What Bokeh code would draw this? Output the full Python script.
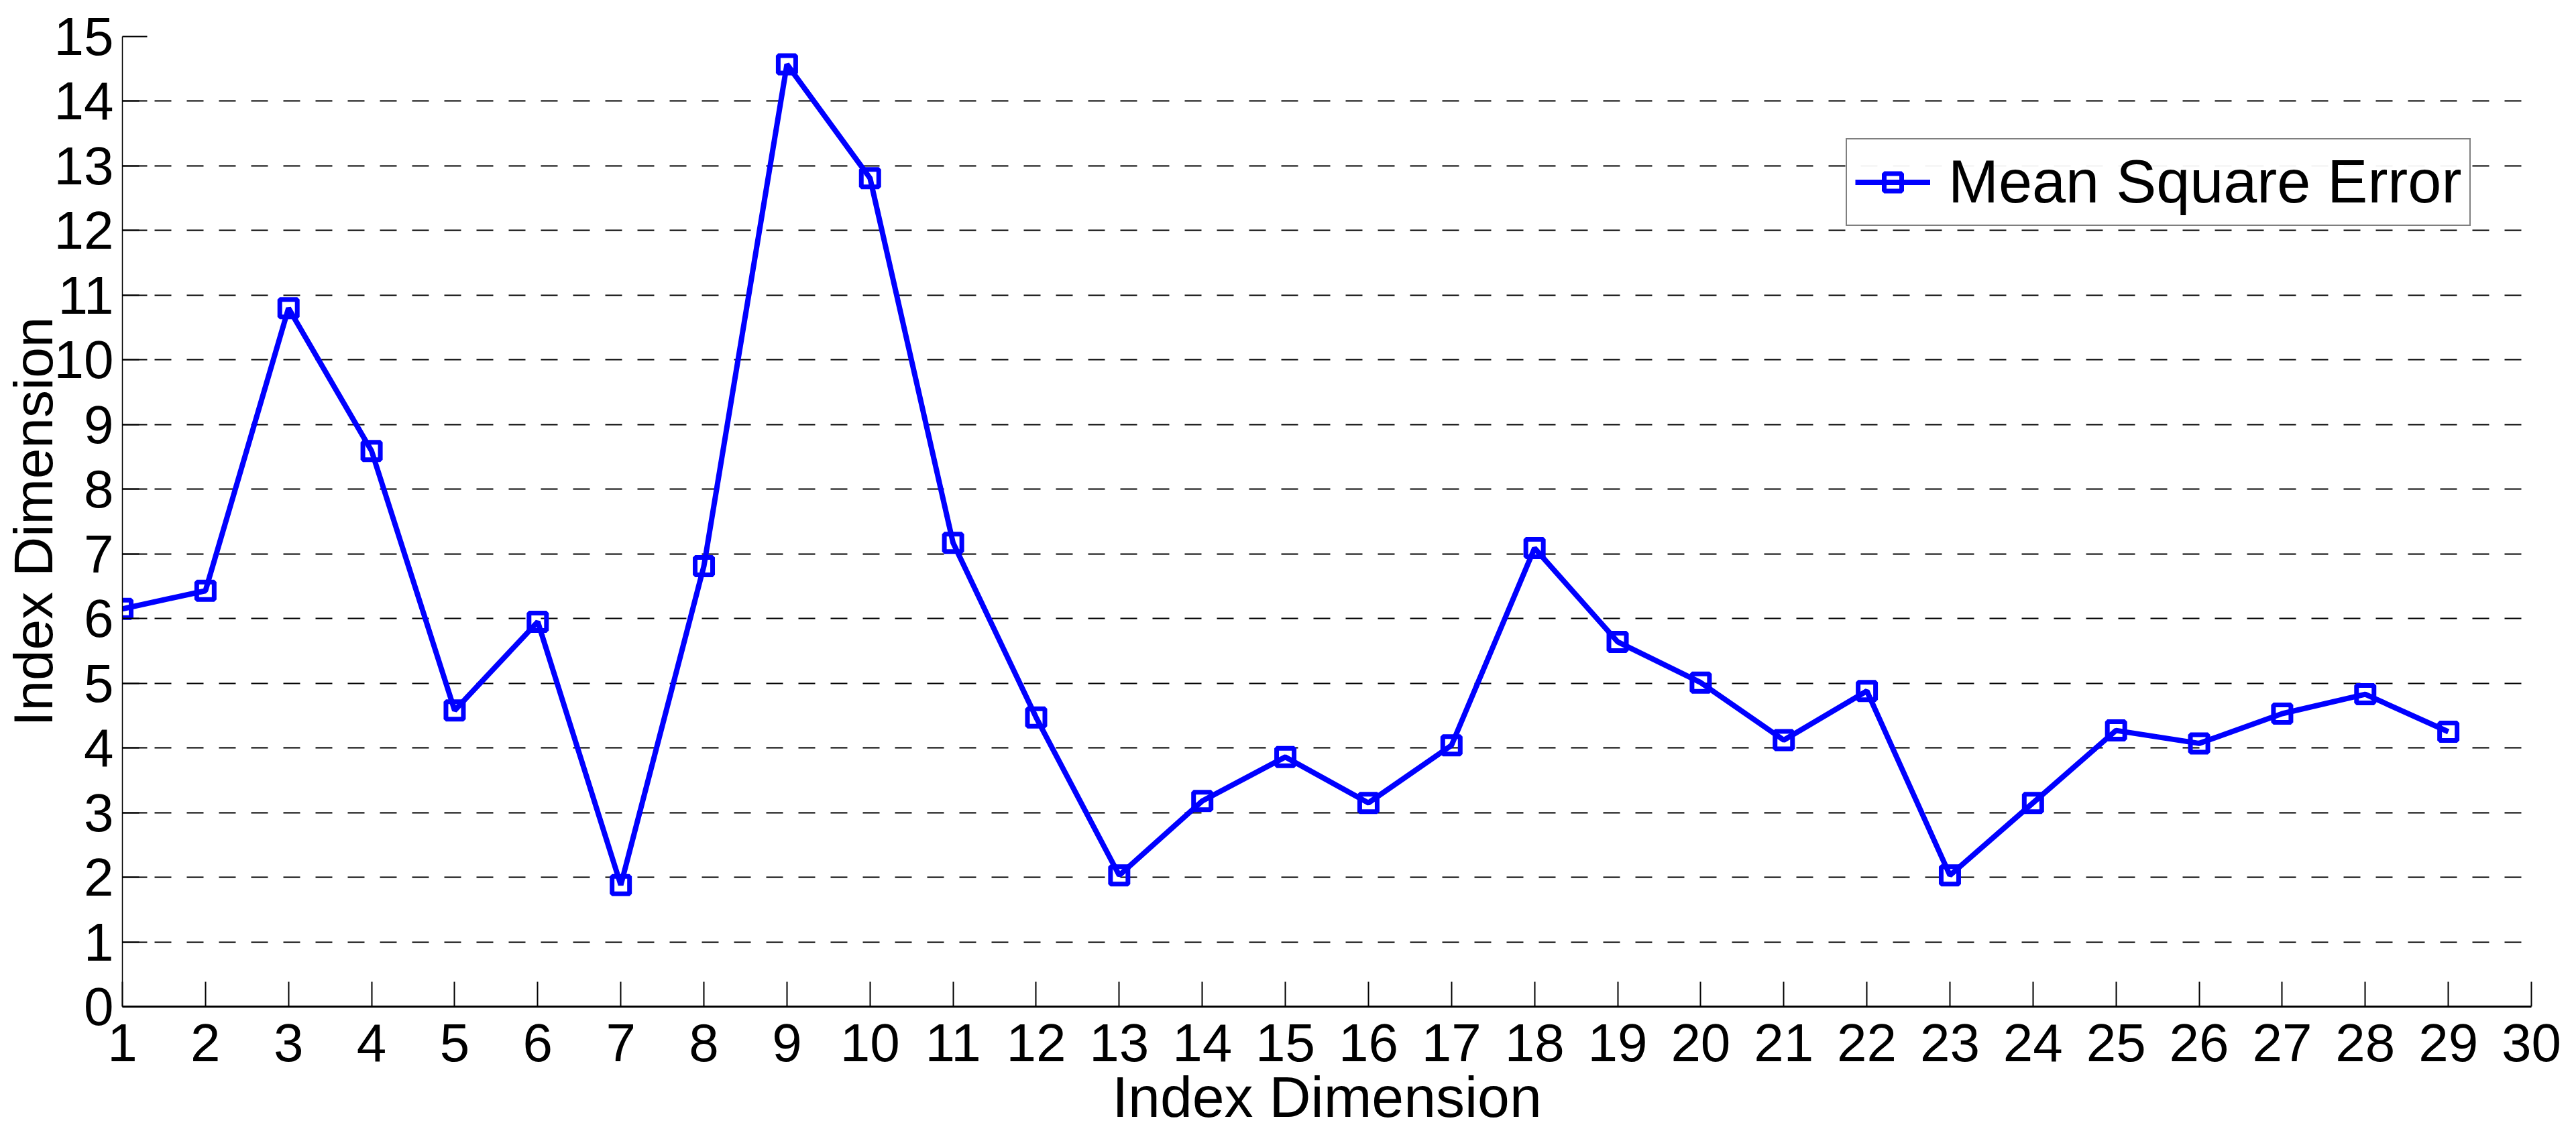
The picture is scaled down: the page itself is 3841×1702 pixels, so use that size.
from bokeh.plotting import figure
from bokeh.models import ColumnDataSource, Range1d, FixedTicker, Legend, LegendItem
from bokeh.embed import file_html
from bokeh.resources import INLINE

index = list(range(1, 30))
mse = [6.15, 6.43, 10.80, 8.59, 4.58, 5.95, 1.88, 6.81, 14.57, 12.81,
       7.17, 4.47, 2.03, 3.18, 3.86, 3.15, 4.04, 7.09, 5.64, 5.01,
       4.12, 4.88, 2.03, 3.15, 4.27, 4.07, 4.53, 4.83, 4.25]
x_ticks = list(range(1, 31))
y_ticks = list(range(0, 16))
x_title = "Index Dimension"
y_title = "Index Dimension"
series_name = "Mean Square Error"

FONT = "Liberation Sans"
src = ColumnDataSource(dict(x=index, y=mse))

p = figure(frame_width=3592, frame_height=1447, output_backend="svg", toolbar_location=None,
           x_range=Range1d(1, 30), y_range=Range1d(0, 15),
           min_border_left=182, min_border_top=54, min_border_right=60, min_border_bottom=195)
p.outline_line_color = None
p.background_fill_color = "white"

p.xgrid.grid_line_color = None
p.ygrid.grid_line_color = "black"
p.ygrid.grid_line_dash = "25 23"
p.ygrid.grid_line_width = 2

p.xaxis.ticker = FixedTicker(ticks=x_ticks)
p.yaxis.ticker = FixedTicker(ticks=y_ticks)
for ax in (p.xaxis[0], p.yaxis[0]):
    ax.major_tick_in = 37
    ax.major_tick_out = 0
    ax.minor_tick_line_color = None
    ax.major_tick_line_color = "black"
    ax.major_tick_line_width = 2
    ax.axis_line_color = "black"
    ax.major_label_text_font = FONT
    ax.major_label_text_font_size = "80px"
    ax.major_label_text_color = "black"
    ax.axis_label_text_font = FONT
    ax.axis_label_text_font_style = "normal"
    ax.axis_label_text_color = "black"
p.xaxis.axis_label_text_font_size = "86px"
p.yaxis.axis_label_text_font_size = "82px"
p.xaxis.axis_line_width = 3
p.yaxis.axis_line_width = 1.5
p.xaxis.axis_label = x_title
p.yaxis.axis_label = y_title
p.xaxis.major_label_standoff = 26
p.yaxis.major_label_standoff = 13
p.xaxis.axis_label_standoff = 2
p.yaxis.axis_label_standoff = -17

ln = p.line("x", "y", source=src, line_color="#0000FF", line_width=8)
sc = p.scatter("x", "y", source=src, marker="square", size=26, fill_color=None,
               line_color="#0000FF", line_width=7)

legend = Legend(items=[LegendItem(label=series_name, renderers=[ln, sc])])
legend.label_text_font = FONT
legend.label_text_font_size = "90px"
legend.label_text_color = "black"
legend.border_line_color = "black"
legend.border_line_width = 2
legend.glyph_width = 112
legend.glyph_height = 65
legend.padding = 12
legend.margin = 0
legend.label_standoff = 27
legend.location = (2570, 1164)
p.add_layout(legend)

open("out.html", "w").write(file_html(p, INLINE))
